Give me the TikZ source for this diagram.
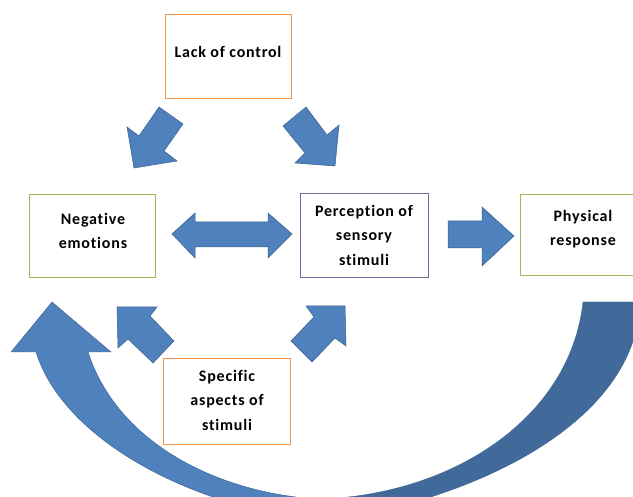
\documentclass[tikz,border=0pt]{standalone}
\usepackage{fontspec}
\setmainfont{Carlito}[Ligatures={NoCommon,NoRare,NoContextual}]
\newfontfamily\boxfont{Carlito}[LetterSpace=5, Ligatures={NoCommon,NoRare,NoContextual}]
\definecolor{arrowfill}{HTML}{4F81BD}
\definecolor{arrowdark}{HTML}{41699A}
\definecolor{arrowline}{HTML}{3A5F8C}
\definecolor{orangeline}{HTML}{F79646}
\definecolor{greenline}{HTML}{9BBB59}
\definecolor{purpleline}{HTML}{8064A2}
\tikzset{
  box/.style={draw, line width=0.8pt, rectangle, inner sep=0pt},
  txt/.style={align=center, inner sep=0pt, font=\boxfont\fontsize{16}{24.5}\selectfont\bfseries},
  blockarrow/.style={fill=arrowfill, draw=arrowline, line width=0.5pt, line join=miter},
  bigarrowlight/.style={fill=arrowfill, draw=arrowline, line width=0.4pt},
  bigarrowdark/.style={fill=arrowdark, draw=arrowdark, line width=0.4pt}
}
\begin{document}
\begin{tikzpicture}[x=1pt,y=-1pt]
\useasboundingbox (0,0) rectangle (633,497);
% big curved arrow
\begin{scope}
\clip (0,0) rectangle (633,497);
\path[bigarrowdark] (320,499) .. controls (450,495) and (570,420) .. (583,302)
  -- (640,302) .. controls (637,420) and (480,500) .. (320,522) -- cycle;
\path[bigarrowlight] (88,352) .. controls (120,450) and (230,495) .. (320,499)
  -- (320,522) .. controls (170,502) and (60,430) .. (36,352)
  -- (11,352) -- (52,302) -- (111,352) -- cycle;
\end{scope}
% boxes
\node[box, draw=orangeline, minimum width=126, minimum height=84] (lackbox) at (228,56) {};
\node[box, draw=greenline, minimum width=126, minimum height=83] (negbox) at (92,235.5) {};
\node[box, draw=purpleline, minimum width=128, minimum height=84] (percbox) at (364,235) {};
\node[box, draw=greenline, minimum width=120, minimum height=81] (physbox) at (580,234.5) {};
\node[box, draw=orangeline, minimum width=127, minimum height=86] (specbox) at (227,401) {};
% texts
\node[txt] (lacktext) at (228,52) {Lack of control};
\node[txt] (negtext) at (93,231) {Negative\\emotions};
\node[txt] (perctext) at (364,235) {Perception of\\sensory\\stimuli};
\node[txt] (phystext) at (583,229) {Physical\\response};
\node[txt] (spectext) at (227,400) {Specific\\aspects of\\stimuli};
% block arrows
\draw[blockarrow] (159,107) -- (183,124) -- (164,151) -- (177,161) -- (134,168) -- (127,127) -- (139,136) -- cycle;
\draw[blockarrow] (306,107) -- (327,135) -- (339,125) -- (335,166) -- (295,163) -- (305,153) -- (283,126) -- cycle;
\draw[blockarrow] (172,234) -- (195,213) -- (195,222) -- (268,222) -- (268,213) -- (292,234) -- (268,258) -- (268,247) -- (195,247) -- (195,258) -- cycle;
\draw[blockarrow] (448,221) -- (482,221) -- (482,207) -- (514,236) -- (482,266) -- (482,248) -- (448,248) -- cycle;
\draw[blockarrow] (117,307) -- (157,307) -- (150,316) -- (174,341) -- (153,363) -- (128,339) -- (118,348) -- cycle;
\draw[blockarrow] (306,306) -- (345,306) -- (346,346) -- (335,338) -- (312,362) -- (291,341) -- (314,317) -- cycle;
\end{tikzpicture}
\end{document}
